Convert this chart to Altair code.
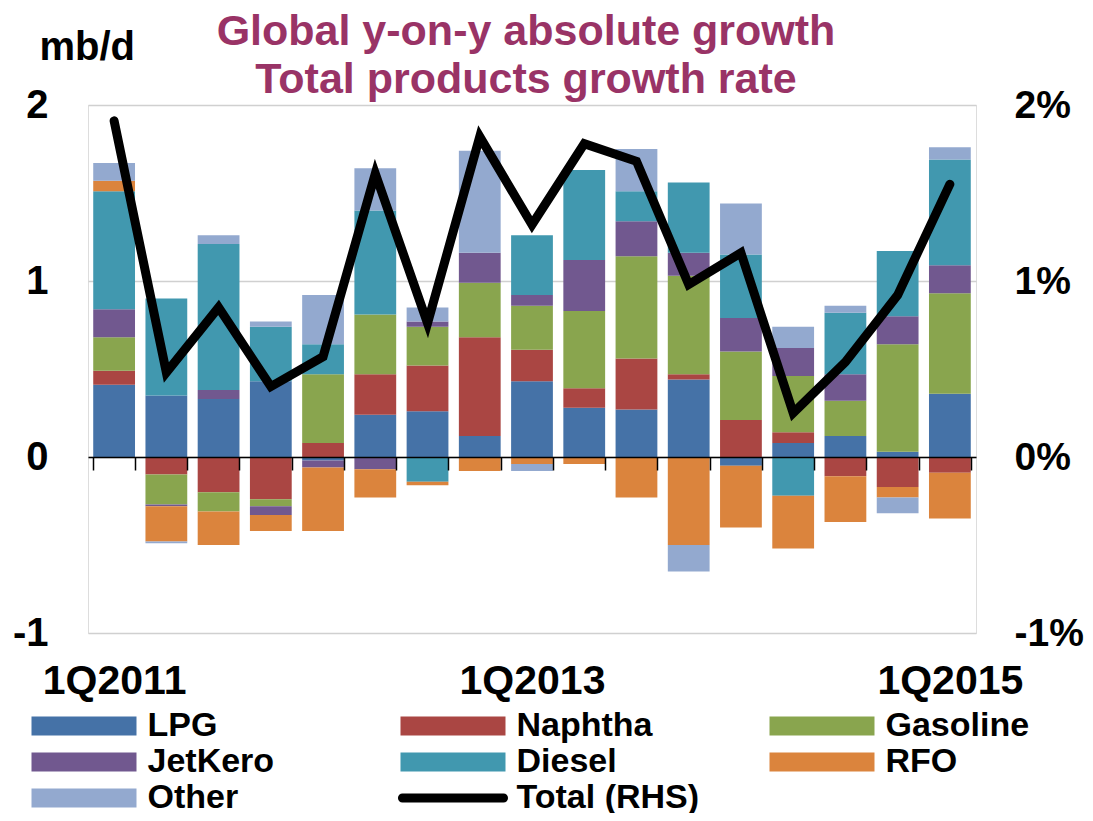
import altair as alt
import pandas as pd

quarters = ["1Q2011", "2Q2011", "3Q2011", "4Q2011",
            "1Q2012", "2Q2012", "3Q2012", "4Q2012",
            "1Q2013", "2Q2013", "3Q2013", "4Q2013",
            "1Q2014", "2Q2014", "3Q2014", "4Q2014",
            "1Q2015"]

lpg      = [0.41, 0.35, 0.33, 0.43, -0.02, 0.24, 0.26, 0.12, 0.43, 0.28, 0.27, 0.44, -0.05, 0.08, 0.12, 0.03, 0.36]
naphtha  = [0.08, -0.10, -0.20, -0.24, 0.08, 0.23, 0.26, 0.56, 0.18, 0.11, 0.29, 0.03, 0.21, 0.06, -0.11, -0.17, -0.09]
gasoline = [0.19, -0.17, -0.11, -0.04, 0.39, 0.34, 0.22, 0.31, 0.25, 0.44, 0.58, 0.56, 0.39, 0.32, 0.20, 0.61, 0.57]
jetkero  = [0.16, -0.01, 0.05, -0.05, -0.04, -0.07, 0.03, 0.17, 0.06, 0.29, 0.20, 0.13, 0.19, 0.16, 0.15, 0.16, 0.16]
diesel   = [0.67, 0.55, 0.83, 0.31, 0.17, 0.59, -0.14, 0.00, 0.34, 0.51, 0.17, 0.40, 0.36, -0.22, 0.35, 0.37, 0.60]
rfo      = [0.06, -0.20, -0.19, -0.09, -0.36, -0.16, -0.02, -0.08, -0.04, -0.04, -0.23, -0.50, -0.35, -0.30, -0.26, -0.06, -0.26]
other    = [0.10, -0.01, 0.05, 0.03, 0.28, 0.24, 0.08, 0.58, -0.04, 0.00, 0.24, -0.15, 0.29, 0.12, 0.04, -0.09, 0.07]
total_pct = [1.91, 0.48, 0.85, 0.40, 0.57, 1.61, 0.76, 1.82, 1.32, 1.78, 1.68, 0.98, 1.16, 0.25, 0.54, 0.92, 1.55]

series_names = ["LPG", "Naphtha", "Gasoline", "JetKero", "Diesel", "RFO", "Other", "Total (RHS)"]
series_colors = ["#4572A7", "#AA4643", "#89A54E", "#71588F", "#4198AF", "#DB843D", "#93A9CF", "#000000"]
shown_labels = ["1Q2011", "1Q2013", "1Q2015"]

FONT = "Liberation Sans"

rows = []
for idx, (name, vals) in enumerate(zip(series_names[:7], [lpg, naphtha, gasoline, jetkero, diesel, rfo, other])):
    for q, v in zip(quarters, vals):
        rows.append({"quarter": q, "product": name, "order": idx, "value": v})
bars_df = pd.DataFrame(rows)
line_df = pd.DataFrame({"quarter": quarters, "total": total_pct})

x_enc = alt.X(
    "quarter:N",
    sort=quarters,
    scale=alt.Scale(paddingInner=0.2, paddingOuter=0.1),
    axis=alt.Axis(
        title=None,
        offset=-176,
        domainColor="black",
        domainWidth=1.5,
        ticks=True,
        tickColor="black",
        tickWidth=1.5,
        tickSize=13,
        tickBand="extent",
        labelPadding=191,
        labelFont=FONT,
        labelFontSize=41,
        labelFontWeight="bold",
        labelColor="black",
        labelAngle=0,
        labelOverlap=False,
        labelBound=False,
        labelExpr="indexof(" + str(shown_labels) + ", datum.value) >= 0 ? datum.value : ''",
        zindex=1,
    ),
)

# legend symbols: 105 px wide bars drawn with a symbol of nominal size 38 px
rect_path = "M-2.763,-0.5H2.763V0.5H-2.763Z"
line_path = "M-2.66,-0.237H2.66A0.237,0.237 0 0 1 2.66,0.237H-2.66A0.237,0.237 0 0 1 -2.66,-0.237Z"
symbol_expr = "datum.label == 'Total (RHS)' ? '" + line_path + "' : '" + rect_path + "'"

bars = alt.Chart(bars_df).mark_bar().encode(
    x=x_enc,
    y=alt.Y(
        "value:Q",
        stack="zero",
        scale=alt.Scale(domain=[-1, 2], nice=False),
        axis=alt.Axis(
            values=[-1, 0, 1, 2],
            title="mb/d",
            titleAngle=0,
            titleAlign="left",
            titleBaseline="alphabetic",
            titleX=-49,
            titleY=-46,
            titleFont=FONT,
            titleFontSize=40,
            titleFontWeight="bold",
            titleColor="black",
            labelFont=FONT,
            labelFontSize=40,
            labelFontWeight="bold",
            labelColor="black",
            labelPadding=40,
            labelExpr="datum.value < 0 ? '-' + abs(datum.value) : '' + datum.value",
            ticks=False,
            domain=False,
            grid=True,
            gridColor="#d0d0d0",
            gridWidth=1.5,
        ),
    ),
    color=alt.Color(
        "product:N",
        scale=alt.Scale(domain=series_names, range=series_colors),
        legend=alt.Legend(
            title=None,
            orient="none",
            direction="horizontal",
            legendX=-23,
            legendY=602,
            columns=3,
            gridAlign="all",
            columnPadding=66,
            rowPadding=0,
            symbolType={"expr": symbol_expr},
            symbolSize=1444,
            symbolStrokeWidth=0,
            labelFont=FONT,
            labelFontSize=34,
            labelFontWeight="bold",
            labelColor="black",
            labelOffset=44.5,
            labelLimit=0,
        ),
    ),
    order=alt.Order("order:Q", sort="ascending"),
)

line = alt.Chart(line_df).mark_line(
    color="black", strokeWidth=9, strokeCap="round", strokeJoin="miter"
).encode(
    x=alt.X("quarter:N", sort=quarters),
    y=alt.Y(
        "total:Q",
        scale=alt.Scale(domain=[-1, 2], nice=False),
        axis=alt.Axis(
            orient="right",
            values=[-1, 0, 1, 2],
            title=None,
            labelExpr="(datum.value < 0 ? '-' + abs(datum.value) : '' + datum.value) + '%'",
            labelFont=FONT,
            labelFontSize=39,
            labelFontWeight="bold",
            labelColor="black",
            labelPadding=38,
            ticks=False,
            domain=False,
            grid=False,
        ),
    ),
)

chart = alt.layer(bars, line).resolve_scale(y="independent").properties(
    width=888,
    height=528,
    autosize=alt.AutoSizeParams(type="none"),
    padding={"left": 80, "top": 97, "right": 109, "bottom": 180},
    title=alt.TitleParams(
        ["Global y-on-y absolute growth", "Total products growth rate"],
        font=FONT,
        fontSize=43,
        fontWeight="bold",
        color="#993366",
        lineHeight=48,
        anchor="middle",
        dx=-6,
        offset=-75,
    ),
).configure_view(stroke=None).configure(background="white")

chart.save("out.html", embed_options={"renderer": "svg", "actions": False})
